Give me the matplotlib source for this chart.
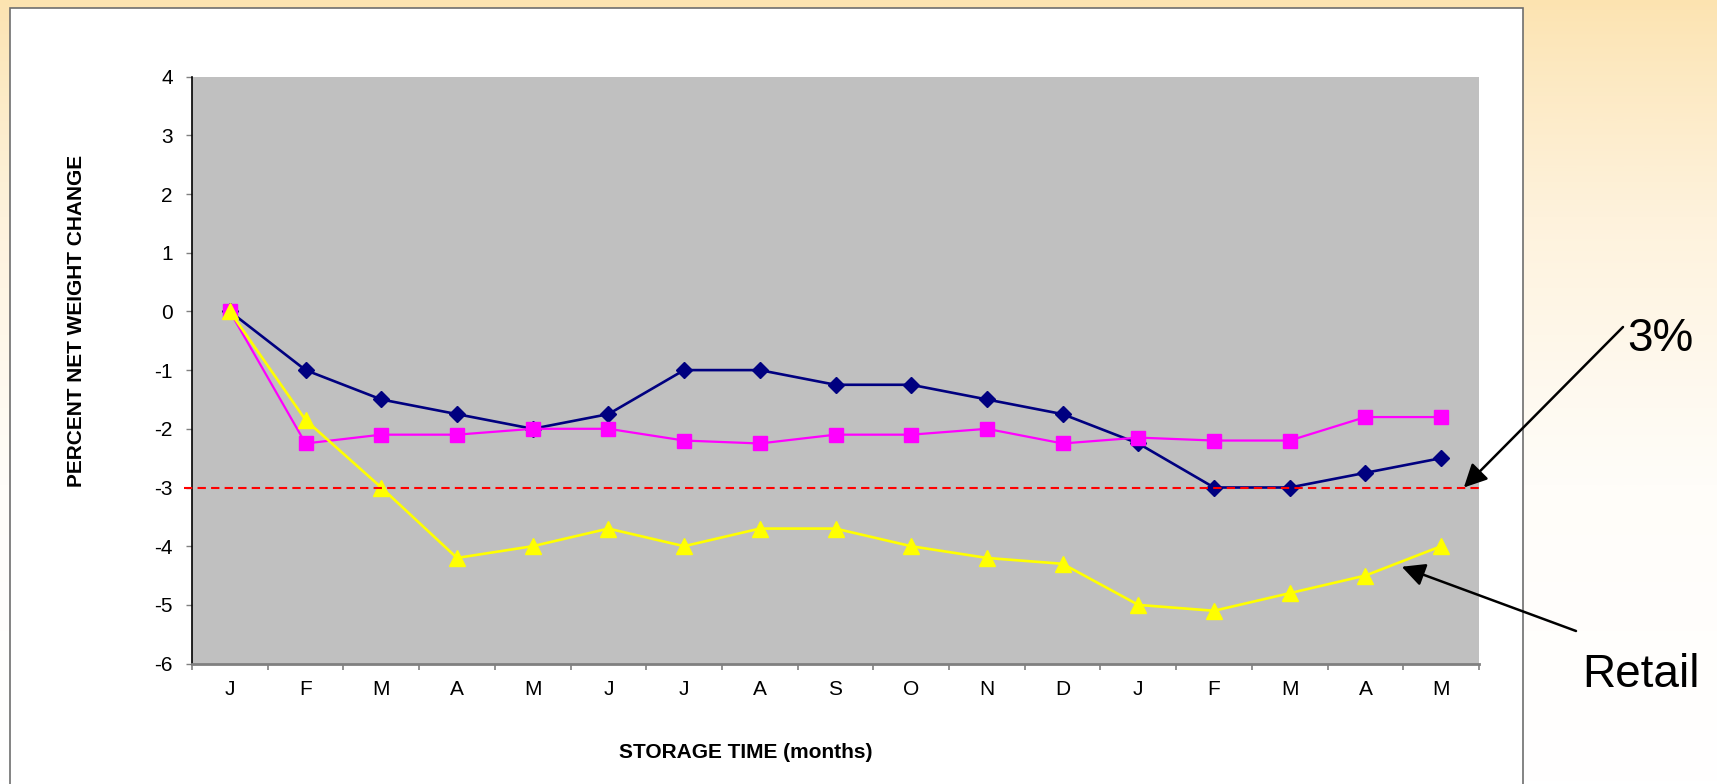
import matplotlib
matplotlib.use("Agg")
import matplotlib.pyplot as plt
import numpy as np
from matplotlib.colors import LinearSegmentedColormap
from matplotlib.patches import Rectangle

plt.rcParams["font.family"] = ["Liberation Sans", "DejaVu Sans"]
plt.rcParams["axes.unicode_minus"] = False

# storage months, Jan through May of the following year
months = ["J", "F", "M", "A", "M", "J", "J", "A", "S", "O", "N", "D", "J", "F", "M", "A", "M"]
navy_series = [0, -1, -1.5, -1.75, -2, -1.75, -1, -1, -1.25, -1.25, -1.5, -1.75, -2.25, -3, -3, -2.75, -2.5]
pink_series = [0, -2.25, -2.1, -2.1, -2, -2, -2.2, -2.25, -2.1, -2.1, -2, -2.25, -2.15, -2.2, -2.2, -1.8, -1.8]
yellow_series = [0, -1.85, -3, -4.2, -4, -3.7, -4, -3.7, -3.7, -4, -4.2, -4.3, -5, -5.1, -4.8, -4.5, -4]
y_ticks = list(range(-6, 5))
threshold = -3

W, H = 1717, 784
fig = plt.figure(figsize=(W / 100, H / 100), dpi=100)

# slide background: warm gradient fading to white, with the white chart panel on top
bg = fig.add_axes([0, 0, 1, 1])
bg.axis("off")
warm = LinearSegmentedColormap.from_list("warm", ["#FCE3B0", "#FEF2DC", "#FFFDF9", "#FFFFFF"])
grad = np.linspace(0, 1, 400).reshape(-1, 1) ** 0.85
bg.imshow(grad, cmap=warm, aspect="auto", extent=[0, 1, 0, 1], origin="upper")
bg.add_patch(Rectangle((10 / W, -0.05), 1513 / W, (H - 8) / H + 0.05,
                       facecolor="white", edgecolor="#6E6E6E", lw=1.2, clip_on=False))
bg.set_xlim(0, 1)
bg.set_ylim(0, 1)

left, right, top, bottom = 192, 1479, 76.6, 663.6
ax = fig.add_axes([left / W, (H - bottom) / H, (right - left) / W, (bottom - top) / H])
ax.set_facecolor("#C0C0C0")
for side in ("top", "right"):
    ax.spines[side].set_visible(False)
ax.spines["left"].set_color("black")
ax.spines["left"].set_linewidth(1.2)
ax.spines["bottom"].set_color("#808080")
ax.spines["bottom"].set_linewidth(2)

x = np.arange(len(months))
ax.plot(x, navy_series, color="#000080", lw=1.9, marker="D", ms=8.5, zorder=3)
ax.plot(x, pink_series, color="#FF00FF", lw=1.6, marker="s", ms=10.5, zorder=4)
ax.plot(x, yellow_series, color="#FFFF00", lw=1.9, marker="^", ms=11.5, zorder=5)

# 3% loss limit
ax.plot([-0.006, 1], [threshold, threshold], transform=ax.get_yaxis_transform(),
        color="#FF0000", lw=1.5, dashes=(4, 2.5), clip_on=False, zorder=6)

ax.set_ylim(-6, 4)
ax.set_yticks(y_ticks)
ax.tick_params(axis="y", direction="out", length=4.3, width=1, color="#808080",
               labelsize=15, pad=9.5)

ax.set_xlim(-0.5, len(months) - 0.5)
ax.set_xticks(np.arange(len(months) + 1) - 0.5)
ax.set_xticklabels([])
ax.set_xticks(x, minor=True)
ax.set_xticklabels(months, minor=True)
ax.tick_params(axis="x", which="major", direction="out", length=4.3, width=1.2, color="#808080")
ax.tick_params(axis="x", which="minor", length=0, pad=11.5, labelsize=15)

fig.text(77 / W, 1 - 321 / H, "PERCENT NET WEIGHT CHANGE", rotation=90,
         ha="center", va="center", fontsize=15, fontweight="bold")
fig.text(746 / W, 1 - 752 / H, "STORAGE TIME (months)",
         ha="center", va="center", fontsize=15, fontweight="bold")

# callouts
fig.text(1627 / W, 1 - 351 / H, "3%", fontsize=33, va="baseline")
fig.text(1582 / W, 1 - 687 / H, "Retail", fontsize=33, va="baseline")

arrow = dict(arrowstyle="-|>,head_length=0.5,head_width=0.25", color="black", lw=1.8,
             mutation_scale=28, shrinkA=0, shrinkB=0)
ax.annotate("", xy=(16.3, threshold), xycoords="data",
            xytext=(1623, H - 327), textcoords="figure pixels",
            arrowprops=arrow, annotation_clip=False)
ax.annotate("", xy=(15.48, -4.35), xycoords="data",
            xytext=(1576, H - 631), textcoords="figure pixels",
            arrowprops=arrow, annotation_clip=False)

fig.savefig("out.png", dpi=100)
